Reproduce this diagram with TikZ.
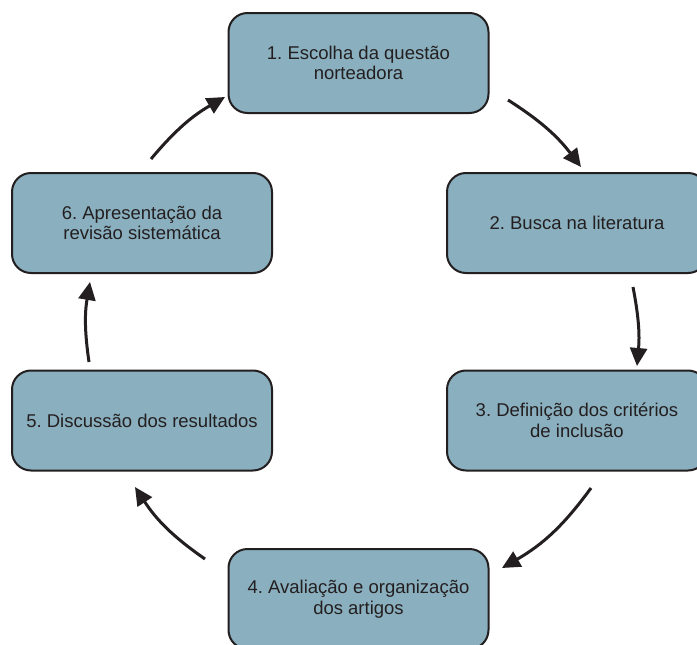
\documentclass[tikz,border=0pt]{standalone}
\usepackage{fontspec}
\setmainfont{Liberation Sans}
\usetikzlibrary{arrows.meta}
\definecolor{boxfill}{RGB}{138,175,190}
\definecolor{ink}{RGB}{35,31,32}
\frenchspacing
\begin{document}
\begin{tikzpicture}[x=1pt,y=-1pt,
  stepbox/.style={draw=ink, line width=2pt, fill=boxfill, rounded corners=19pt,
    minimum width=260pt, minimum height=100pt, inner sep=0pt,
    align=center, text=ink, font=\fontsize{18.5}{20.5}\selectfont},
  arr/.style={draw=ink, line width=3pt, -{Triangle[length=18pt,width=17pt]}}]
\useasboundingbox (0,0) rectangle (697,645);
\clip (0,0) rectangle (697,645);
\node[stepbox] (b1) at (358.5,63) {1. Escolha da questão\\norteadora};
\node[stepbox] (b2) at (577,223) {2. Busca na literatura};
\node[stepbox] (b3) at (577,420.5) {3. Definição dos critérios\\de inclusão};
\node[stepbox] (b4) at (358.5,599) {4. Avaliação e organização\\dos artigos};
\node[stepbox] (b5) at (142,420.5) {5. Discussão dos resultados};
\node[stepbox] (b6) at (142,223) {6. Apresentação da\\revisão sistemática};
\coordinate (a1s) at (508,100);  \coordinate (a1e) at (581,167);
\coordinate (a2s) at (633,287);  \coordinate (a2e) at (637,366);
\coordinate (a3s) at (591,488);  \coordinate (a3e) at (502,568);
\coordinate (a4s) at (205,559);  \coordinate (a4e) at (135,487);
\coordinate (a5s) at (89,362);   \coordinate (a5e) at (90,282);
\coordinate (a6s) at (151,159);  \coordinate (a6e) at (225,97);
\draw[arr] (a1s) to[bend left=10] (a1e);
\draw[arr] (a2s) to[bend left=8] (a2e);
\draw[arr] (a3s) to[bend left=12] (a3e);
\draw[arr] (a4s) to[bend left=11] (a4e);
\draw[arr] (a5s) to[bend left=9] (a5e);
\draw[arr] (a6s) to[bend left=10] (a6e);
\end{tikzpicture}
\end{document}
